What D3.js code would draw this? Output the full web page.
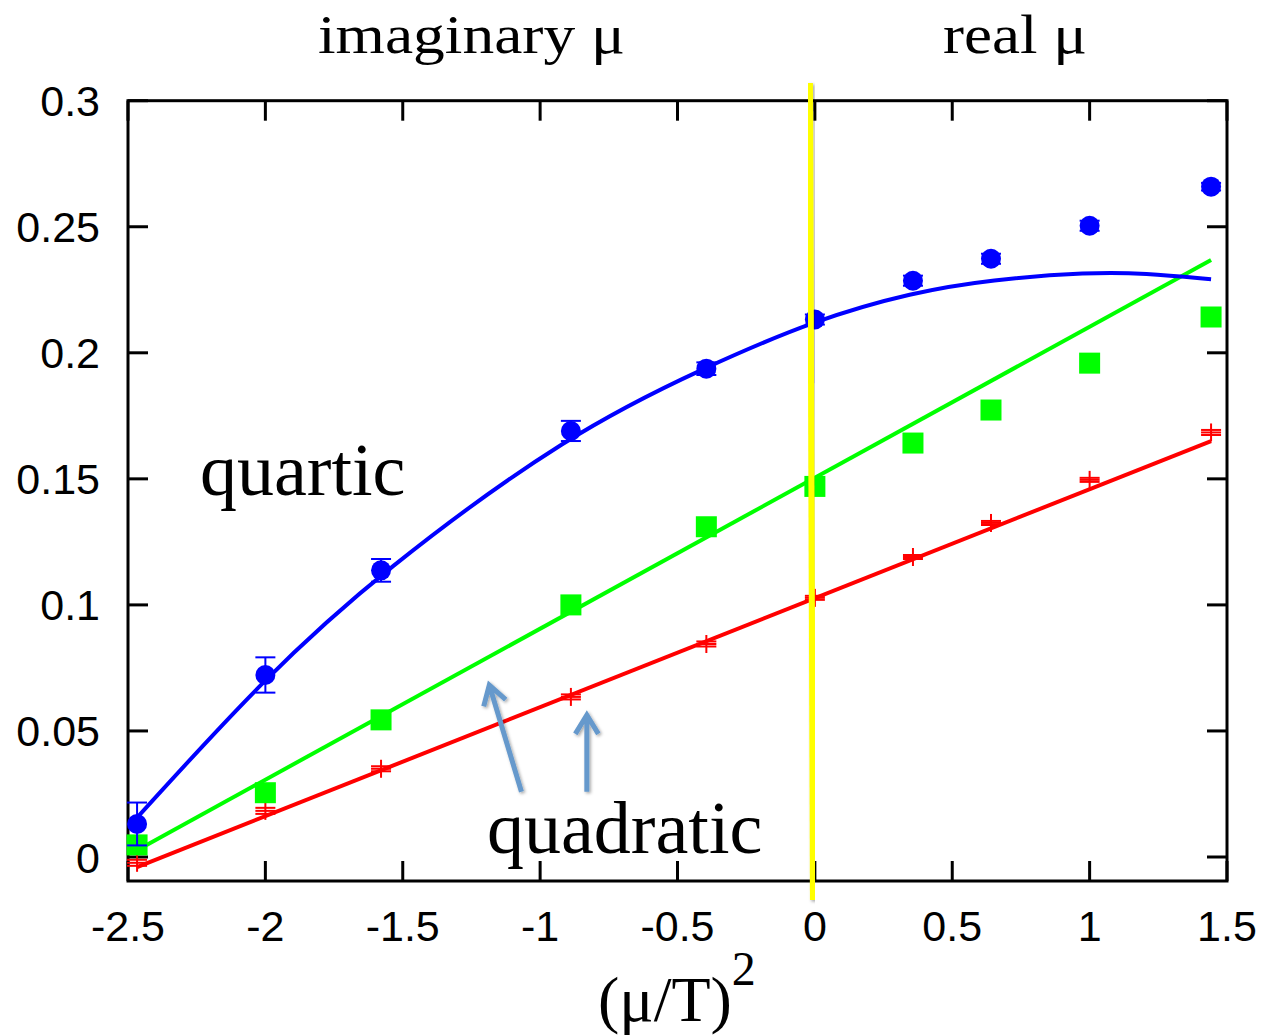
<!DOCTYPE html>
<html>
<head>
<meta charset="utf-8">
<script src="https://cdn.jsdelivr.net/npm/d3@7"></script>
<style>
  body { margin: 0; background: #fff; }
  svg { display: block; }
</style>
</head>
<body>
<script>
const width = 1265;
const height = 1035;

// (mu/T)^2 values of the simulation points
const xPoints = [-2.467, -2.0, -1.579, -0.888, -0.395, 0.0, 0.357, 0.641, 1.0, 1.442];

// blue circles
const blueY = [0.0131, 0.0722, 0.1137, 0.1690, 0.1937, 0.2132, 0.2286, 0.2373, 0.2504, 0.2659];
const blueErr = [0.0085, 0.0070, 0.0045, 0.0040, 0.0025, 0.0020, 0.0020, 0.0020, 0.0020, 0.0015];
// green squares
const greenY = [0.0048, 0.0255, 0.0544, 0.1000, 0.1310, 0.1470, 0.1642, 0.1773, 0.1959, 0.2142];
// red crosses
const redY = [-0.0023, 0.0183, 0.0350, 0.0635, 0.0845, 0.1028, 0.1190, 0.1325, 0.1496, 0.1684];
const redErr = [0.0012, 0.0012, 0.0010, 0.0010, 0.0010, 0.0008, 0.0008, 0.0008, 0.0008, 0.0010];

// quartic fit curve
const quarticX = [-2.467, -2.0, -1.579, -0.888, -0.395, 0.0, 0.357, 0.641, 1.0, 1.2, 1.442];
const quarticY = [0.0156, 0.0715, 0.1132, 0.1685, 0.1945, 0.2130, 0.2240, 0.2290, 0.2320, 0.2316, 0.2292];

// quadratic fits (straight lines in (mu/T)^2)
const greenFitX = [-2.467, 1.442];
const greenFitY = [0.0027, 0.2368];
const redFitX = [-2.467, 1.442];
const redFitY = [-0.0040, 0.1650];

const xTicks = [-2.5, -2, -1.5, -1, -0.5, 0, 0.5, 1, 1.5];
const yTicks = [0, 0.05, 0.1, 0.15, 0.2, 0.25, 0.3];

const plotLeft = 128, plotRight = 1227, plotTop = 100.7, plotBottom = 881;

const x = d3.scaleLinear().domain([-2.5, 1.5]).range([plotLeft, plotRight]);
const y = d3.scaleLinear().domain([0, 0.3]).range([857, plotTop]);

const svg = d3.select('body').append('svg').attr('width', width).attr('height', height);

const defs = svg.append('defs');
const shadow = defs.append('filter').attr('id', 'shadow').attr('x', '-50%').attr('y', '-10%').attr('width', '200%').attr('height', '120%');
shadow.append('feDropShadow').attr('dx', 1.5).attr('dy', 1.5).attr('stdDeviation', 1.5).attr('flood-color', '#000').attr('flood-opacity', 0.35);

const sans = 'Liberation Sans, Arial, Helvetica, sans-serif';
const serif = 'Liberation Serif, Times New Roman, serif';

// ticks (inward, mirrored on all sides)
const tickLen = 20;
const tickG = svg.append('g').attr('stroke', '#000').attr('stroke-width', 3);
xTicks.forEach(t => {
    tickG.append('line').attr('x1', x(t)).attr('x2', x(t)).attr('y1', plotBottom).attr('y2', plotBottom - tickLen);
    tickG.append('line').attr('x1', x(t)).attr('x2', x(t)).attr('y1', plotTop).attr('y2', plotTop + tickLen);
});
yTicks.forEach(t => {
    tickG.append('line').attr('x1', plotLeft).attr('x2', plotLeft + tickLen).attr('y1', y(t)).attr('y2', y(t));
    tickG.append('line').attr('x1', plotRight).attr('x2', plotRight - tickLen).attr('y1', y(t)).attr('y2', y(t));
});

svg.append('rect').attr('x', plotLeft).attr('y', plotTop).attr('width', plotRight - plotLeft).attr('height', plotBottom - plotTop)
    .attr('fill', 'none').attr('stroke', '#000').attr('stroke-width', 3);

// tick labels (plain hyphen as minus sign)
svg.selectAll('text.xtick').data(xTicks).enter().append('text').classed('xtick', true)
    .attr('x', d => x(d)).attr('y', 941)
    .attr('text-anchor', 'middle').attr('font-family', sans).attr('font-size', 43)
    .text(d => String(d));

svg.selectAll('text.ytick').data(yTicks).enter().append('text').classed('ytick', true)
    .attr('x', 100).attr('y', d => y(d) + 15.5)
    .attr('text-anchor', 'end').attr('font-family', sans).attr('font-size', 43)
    .text(d => String(d));

const line = d3.line().x(d => x(d[0])).y(d => y(d[1]));

// fit lines
svg.append('path').datum(d3.zip(redFitX, redFitY)).attr('d', line)
    .attr('fill', 'none').attr('stroke', '#ff0000').attr('stroke-width', 4);
svg.append('path').datum(d3.zip(greenFitX, greenFitY)).attr('d', line)
    .attr('fill', 'none').attr('stroke', '#00ff00').attr('stroke-width', 4);
svg.append('path').datum(d3.zip(quarticX, quarticY)).attr('d', line.curve(d3.curveBasis))
    .attr('fill', 'none').attr('stroke', '#0000ff').attr('stroke-width', 4);

// red crosses with error bars
const redData = d3.zip(xPoints, redY, redErr);
const redG = svg.append('g').attr('stroke', '#ff0000').attr('stroke-width', 2);
redData.forEach(d => {
    const cx = x(d[0]), cy = y(d[1]);
    redG.append('line').attr('x1', cx - 10).attr('x2', cx + 10).attr('y1', cy).attr('y2', cy);
    redG.append('line').attr('x1', cx).attr('x2', cx).attr('y1', cy - 9).attr('y2', cy + 9);
    const e1 = y(d[1] + d[2]), e2 = y(d[1] - d[2]);
    redG.append('line').attr('x1', cx - 10).attr('x2', cx + 10).attr('y1', e1).attr('y2', e1);
    redG.append('line').attr('x1', cx - 10).attr('x2', cx + 10).attr('y1', e2).attr('y2', e2);
});

// green squares
svg.selectAll('rect.green').data(d3.zip(xPoints, greenY)).enter().append('rect').classed('green', true)
    .attr('x', d => x(d[0]) - 10.5).attr('y', d => y(d[1]) - 10.5)
    .attr('width', 21).attr('height', 21).attr('fill', '#00ff00');

// blue circles with error bars
const blueData = d3.zip(xPoints, blueY, blueErr);
const blueG = svg.append('g').attr('stroke', '#0000ff').attr('stroke-width', 2);
blueData.forEach(d => {
    const cx = x(d[0]), e1 = y(d[1] + d[2]), e2 = y(d[1] - d[2]);
    blueG.append('line').attr('x1', cx).attr('x2', cx).attr('y1', e1).attr('y2', e2);
    blueG.append('line').attr('x1', cx - 10).attr('x2', cx + 10).attr('y1', e1).attr('y2', e1);
    blueG.append('line').attr('x1', cx - 10).attr('x2', cx + 10).attr('y1', e2).attr('y2', e2);
});
svg.selectAll('circle.blue').data(blueData).enter().append('circle').classed('blue', true)
    .attr('cx', d => x(d[0])).attr('cy', d => y(d[1])).attr('r', 10).attr('fill', '#0000ff');

// yellow divider between imaginary and real mu
svg.append('line')
    .attr('x1', x(-0.018)).attr('y1', 83).attr('x2', x(-0.007)).attr('y2', 900)
    .attr('stroke', '#ffff00').attr('stroke-width', 6).attr('filter', 'url(#shadow)');

// arrows pointing at the quadratic fits
const arrows = [
    { from: [-1.068, 0.0259], to: [-1.185, 0.0682] },
    { from: [-0.830, 0.0259], to: [-0.830, 0.0563] }
];
const arrowG = svg.append('g').attr('stroke', '#6699cc').attr('stroke-width', 5)
    .attr('fill', 'none').attr('stroke-linecap', 'butt').attr('filter', 'url(#shadow)');
arrows.forEach(a => {
    const x1 = x(a.from[0]), y1 = y(a.from[1]), x2 = x(a.to[0]), y2 = y(a.to[1]);
    const ang = Math.atan2(y2 - y1, x2 - x1);
    const hl = 22, spread = 0.55;
    const p = d3.path();
    p.moveTo(x1, y1); p.lineTo(x2, y2);
    p.moveTo(x2 - hl * Math.cos(ang - spread), y2 - hl * Math.sin(ang - spread));
    p.lineTo(x2, y2);
    p.lineTo(x2 - hl * Math.cos(ang + spread), y2 - hl * Math.sin(ang + spread));
    arrowG.append('path').attr('d', p.toString()).attr('stroke-linejoin', 'miter');
});

// labels
svg.append('text').attr('x', 318).attr('y', 53).attr('font-family', serif).attr('font-size', 54)
    .attr('textLength', 307).attr('lengthAdjust', 'spacingAndGlyphs').text('imaginary μ');
svg.append('text').attr('x', 943).attr('y', 53).attr('font-family', serif).attr('font-size', 54)
    .attr('textLength', 144).attr('lengthAdjust', 'spacingAndGlyphs').text('real μ');
svg.append('text').attr('x', 200).attr('y', 495).attr('font-family', serif).attr('font-size', 74)
    .text('quartic');
svg.append('text').attr('x', 487).attr('y', 853).attr('font-family', serif).attr('font-size', 74)
    .text('quadratic');

const xlab = svg.append('text').attr('x', 598).attr('y', 1021).attr('font-family', serif).attr('font-size', 64);
xlab.append('tspan').text('(μ/T)');
xlab.append('tspan').attr('dy', -36).attr('font-size', 48).text('2');
</script>
</body>
</html>
